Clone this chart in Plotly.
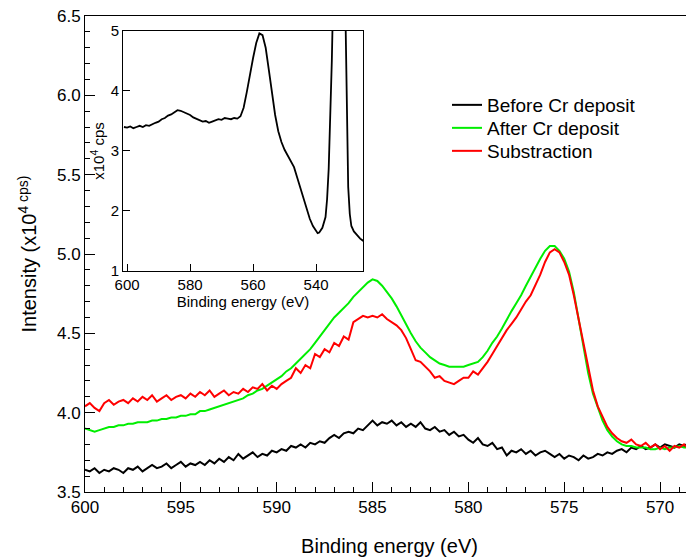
import plotly.graph_objects as go

# ---- main panel data (binding energy in eV, intensity in 1e4 cps) ----
energy = [600.0, 599.75, 599.5, 599.25, 599.0, 598.75, 598.5, 598.25, 598.0, 597.75, 597.5, 597.25,
          597.0, 596.75, 596.5, 596.25, 596.0, 595.75, 595.5, 595.25, 595.0, 594.75, 594.5, 594.25,
          594.0, 593.75, 593.5, 593.25, 593.0, 592.75, 592.5, 592.25, 592.0, 591.75, 591.5, 591.25,
          591.0, 590.75, 590.5, 590.25, 590.0, 589.75, 589.5, 589.25, 589.0, 588.75, 588.5, 588.25,
          588.0, 587.75, 587.5, 587.25, 587.0, 586.75, 586.5, 586.25, 586.0, 585.75, 585.5, 585.25,
          585.0, 584.75, 584.5, 584.25, 584.0, 583.75, 583.5, 583.25, 583.0, 582.75, 582.5, 582.25,
          582.0, 581.75, 581.5, 581.25, 581.0, 580.75, 580.5, 580.25, 580.0, 579.75, 579.5, 579.25,
          579.0, 578.75, 578.5, 578.25, 578.0, 577.75, 577.5, 577.25, 577.0, 576.75, 576.5, 576.25,
          576.0, 575.75, 575.5, 575.25, 575.0, 574.75, 574.5, 574.25, 574.0, 573.75, 573.5, 573.25,
          573.0, 572.75, 572.5, 572.25, 572.0, 571.75, 571.5, 571.25, 571.0, 570.75, 570.5, 570.25,
          570.0, 569.75, 569.5, 569.25, 569.0, 568.75, 568.5, 568.25, 568.0]

before = [3.64, 3.63, 3.65, 3.62, 3.64, 3.63, 3.65, 3.64, 3.62, 3.65, 3.64, 3.66,
          3.63, 3.65, 3.67, 3.65, 3.66, 3.68, 3.65, 3.67, 3.69, 3.66, 3.68, 3.67,
          3.69, 3.67, 3.70, 3.68, 3.71, 3.69, 3.72, 3.70, 3.74, 3.71, 3.73, 3.75,
          3.72, 3.74, 3.73, 3.76, 3.75, 3.77, 3.76, 3.79, 3.78, 3.80, 3.78, 3.81,
          3.80, 3.82, 3.81, 3.84, 3.86, 3.84, 3.87, 3.88, 3.87, 3.90, 3.89, 3.92,
          3.95, 3.92, 3.94, 3.93, 3.95, 3.92, 3.94, 3.91, 3.93, 3.91, 3.94, 3.90,
          3.89, 3.91, 3.88, 3.89, 3.86, 3.88, 3.85, 3.86, 3.83, 3.81, 3.84, 3.80,
          3.79, 3.81, 3.77, 3.78, 3.73, 3.76, 3.75, 3.77, 3.74, 3.76, 3.73, 3.75,
          3.76, 3.74, 3.72, 3.74, 3.71, 3.73, 3.72, 3.70, 3.73, 3.71, 3.72, 3.74,
          3.73, 3.75, 3.74, 3.76, 3.77, 3.75, 3.78, 3.77, 3.79, 3.77, 3.78, 3.80,
          3.78, 3.80, 3.79, 3.78, 3.80, 3.79, 3.81, 3.80, 3.82]

after = [3.90, 3.89, 3.88, 3.89, 3.90, 3.91, 3.91, 3.92, 3.92, 3.93, 3.93, 3.94,
         3.94, 3.94, 3.95, 3.95, 3.96, 3.96, 3.97, 3.97, 3.98, 3.98, 3.99, 3.99,
         4.01, 4.01, 4.02, 4.03, 4.04, 4.05, 4.06, 4.07, 4.08, 4.09, 4.11, 4.12,
         4.14, 4.15, 4.17, 4.19, 4.21, 4.23, 4.26, 4.28, 4.31, 4.34, 4.37, 4.40,
         4.44, 4.48, 4.52, 4.56, 4.60, 4.63, 4.66, 4.69, 4.73, 4.76, 4.79, 4.82,
         4.84, 4.83, 4.80, 4.76, 4.72, 4.67, 4.61, 4.56, 4.50, 4.45, 4.41, 4.38,
         4.35, 4.33, 4.31, 4.30, 4.29, 4.29, 4.29, 4.29, 4.30, 4.31, 4.32, 4.35,
         4.39, 4.44, 4.48, 4.53, 4.59, 4.64, 4.69, 4.74, 4.80, 4.86, 4.92, 4.97,
         5.02, 5.05, 5.05, 5.02, 4.97, 4.89, 4.76, 4.59, 4.42, 4.25, 4.12, 4.03,
         3.95, 3.89, 3.85, 3.82, 3.80, 3.79, 3.79, 3.78, 3.78, 3.78, 3.77, 3.77,
         3.78, 3.77, 3.78, 3.78, 3.79, 3.78, 3.78, 3.79, 3.79]

subtraction = [4.04, 4.06, 4.03, 4.01, 4.06, 4.08, 4.05, 4.07, 4.08, 4.06, 4.09, 4.07,
               4.10, 4.08, 4.11, 4.07, 4.09, 4.11, 4.08, 4.10, 4.11, 4.09, 4.12, 4.10,
               4.13, 4.11, 4.14, 4.10, 4.12, 4.14, 4.11, 4.13, 4.12, 4.15, 4.13, 4.16,
               4.15, 4.18, 4.14, 4.17, 4.15, 4.18, 4.20, 4.22, 4.28, 4.25, 4.30, 4.28,
               4.37, 4.35, 4.40, 4.38, 4.44, 4.42, 4.48, 4.46, 4.57, 4.59, 4.61, 4.60,
               4.61, 4.60, 4.62, 4.59, 4.57, 4.55, 4.52, 4.47, 4.40, 4.33, 4.32, 4.29,
               4.26, 4.22, 4.23, 4.20, 4.19, 4.18, 4.20, 4.22, 4.22, 4.26, 4.24, 4.28,
               4.32, 4.37, 4.42, 4.47, 4.52, 4.56, 4.60, 4.65, 4.70, 4.74, 4.80, 4.87,
               4.95, 5.01, 5.03, 5.01, 4.95, 4.87, 4.74, 4.59, 4.44, 4.28, 4.14, 4.04,
               3.97, 3.91, 3.87, 3.84, 3.82, 3.81, 3.83, 3.80, 3.79, 3.81, 3.78, 3.80,
               3.77, 3.79, 3.76, 3.79, 3.78, 3.80, 3.77, 3.79, 3.78]

# ---- inset data (wide scan) ----
inset_energy = [601.0, 600.0, 599.0, 598.0, 597.0, 596.0, 595.0, 594.0, 593.0, 592.0,
                591.0, 590.0, 589.0, 588.0, 587.0, 586.0, 585.0, 584.0, 583.0, 582.0,
                581.0, 580.0, 579.0, 578.0, 577.0, 576.0, 575.0, 574.0, 573.0, 572.0,
                571.0, 570.0, 569.0, 568.0, 567.0, 566.0, 565.0, 564.0, 563.0, 562.0,
                561.0, 560.0, 559.0, 558.0, 557.0, 556.0, 555.0, 554.0, 553.0, 552.0,
                551.0, 550.0, 549.0, 548.0, 547.0, 546.0, 545.0, 544.0, 543.0, 542.0,
                541.0, 540.0, 539.5, 539.0, 538.0, 537.0, 536.5, 536.0, 535.5, 535.0,
                534.5, 533.5, 532.5, 531.5, 530.8, 530.3, 529.8, 529.3, 528.8, 528.0,
                527.0, 526.0, 525.0]
inset_counts = [3.40, 3.39, 3.41, 3.38, 3.40, 3.42, 3.40, 3.43, 3.42, 3.45,
                3.47, 3.49, 3.53, 3.55, 3.59, 3.61, 3.65, 3.68, 3.67, 3.65,
                3.62, 3.60, 3.56, 3.54, 3.52, 3.49, 3.50, 3.47, 3.49, 3.51,
                3.53, 3.52, 3.55, 3.54, 3.53, 3.55, 3.54, 3.58, 3.72, 3.98,
                4.30, 4.55, 4.80, 4.96, 4.93, 4.72, 4.35, 3.95, 3.60, 3.33,
                3.15, 3.02, 2.92, 2.82, 2.73, 2.56, 2.38, 2.20, 2.03, 1.87,
                1.75, 1.66, 1.63, 1.64, 1.72, 1.90, 2.20, 2.70, 3.50, 4.50,
                5.80, 8.50, 9.50, 8.00, 5.50, 3.60, 2.40, 1.95, 1.75, 1.66,
                1.60, 1.54, 1.50]

main_yticks = [3.5, 4.0, 4.5, 5.0, 5.5, 6.0, 6.5]
main_xticks = [600, 595, 590, 585, 580, 575, 570]
inset_xticks = [600, 580, 560, 540]
inset_yticks = [1, 2, 3, 4, 5]

FONT = "Liberation Sans, Arial, Helvetica, sans-serif"

fig = go.Figure()
fig.add_trace(go.Scatter(x=energy, y=before, mode="lines", name="Before Cr deposit",
                         legend="legend", line=dict(color="#000000", width=2)))
fig.add_trace(go.Scatter(x=energy, y=after, mode="lines", name="After Cr deposit",
                         legend="legend2", line=dict(color="#00ee00", width=2)))
fig.add_trace(go.Scatter(x=energy, y=subtraction, mode="lines", name="Substraction",
                         legend="legend3", line=dict(color="#ff0000", width=2)))
fig.add_trace(go.Scatter(x=inset_energy, y=inset_counts, mode="lines", showlegend=False,
                         line=dict(color="#000000", width=1.8), xaxis="x2", yaxis="y2"))

leg_common = dict(xanchor="left", yanchor="middle", bgcolor="rgba(0,0,0,0)",
                  font=dict(size=19, family=FONT, color="black"), borderwidth=0)

fig.update_layout(
    width=694, height=558,
    margin=dict(l=77, r=8, t=8, b=74, autoexpand=False),
    paper_bgcolor="white", plot_bgcolor="white",
    font=dict(family=FONT, color="black"),
    xaxis=dict(range=[600, 568.23], tickvals=main_xticks, ticks="inside", ticklen=10,
               tickwidth=1, tickcolor="black", showline=True, linecolor="black", linewidth=1,
               mirror=True, automargin=False, ticklabeloverflow="allow",
               showgrid=False, zeroline=False, tickfont=dict(size=17),
               minor=dict(dtick=1, ticks="inside", ticklen=5, tickwidth=1, tickcolor="black", showgrid=False),
               title=dict(text="Binding energy (eV)", font=dict(size=20), standoff=22)),
    yaxis=dict(range=[3.5, 6.5], tickvals=main_yticks, tickformat=".1f", ticks="inside",
               ticklen=10, tickwidth=1, tickcolor="black", showline=True, linecolor="black",
               linewidth=1, automargin=False, ticklabeloverflow="allow",
               showgrid=False, zeroline=False, tickfont=dict(size=17),
               minor=dict(dtick=0.1, ticks="inside", ticklen=5, tickwidth=1, tickcolor="black", showgrid=False),
               title=dict(text="Intensity (x10<sup>4</sup><sup> cps)</sup>", font=dict(size=20), standoff=14)),
    xaxis2=dict(domain=[0.0624, 0.4565], anchor="y2", range=[601.3, 525.1], tickvals=inset_xticks,
                ticks="inside", ticklen=7, tickcolor="black", showline=True, linecolor="black",
                linewidth=1, mirror=True, automargin=False, showgrid=False, zeroline=False,
                ticklabeloverflow="allow", tickfont=dict(size=15),
                title=dict(text="Binding energy (eV)", font=dict(size=15), standoff=0)),
    yaxis2=dict(domain=[0.4643, 0.9685], anchor="x2", range=[1, 5], tickvals=inset_yticks,
                ticks="inside", ticklen=7, tickcolor="black", showline=True, linecolor="black",
                linewidth=1, mirror=True, automargin=False, showgrid=False, zeroline=False,
                ticklabeloverflow="allow", tickfont=dict(size=15),
                title=dict(text="x10<sup>4</sup> cps", font=dict(size=15), standoff=2)),
    legend=dict(x=0.5944, y=0.8130, **leg_common),
    legend2=dict(x=0.5944, y=0.7647, **leg_common),
    legend3=dict(x=0.5944, y=0.7164, **leg_common),
    showlegend=True,
)

fig.write_html("out.html")
